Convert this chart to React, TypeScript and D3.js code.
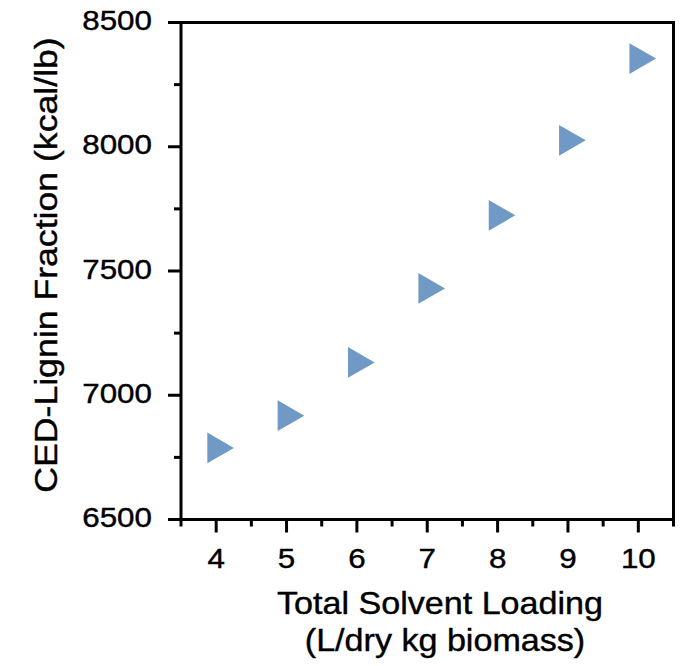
import React from "react";
import * as d3 from "d3";

const loadings = [4, 5, 6, 7, 8, 9, 10];
const cedLignin = [6788, 6918, 7132, 7430, 7724, 8026, 8355];
const yMajorTicks = [6500, 7000, 7500, 8000, 8500];
const yMinorTicks = [6750, 7250, 7750, 8250];
const xMajorTicks = [4, 5, 6, 7, 8, 9, 10];
const xMinorTicks = [3.5, 4.5, 5.5, 6.5, 7.5, 8.5, 9.5, 10.5];
const xTitle1 = "Total Solvent Loading";
const xTitle2 = "(L/dry kg biomass)";
const yTitle = "CED-Lignin Fraction (kcal/lb)";

const W = 682;
const H = 666;
const FONT = "'Liberation Sans', Arial, sans-serif";
const COLOR = "#7199c5";

export default function App() {
  const x = d3.scaleLinear().domain([3.5, 10.5]).range([181, 673.5]);
  const y = d3.scaleLinear().domain([6500, 8500]).range([519.5, 22.5]);
  const tri = d3.symbol().type(d3.symbolTriangle).size(410)();
  const [x0, x1] = x.range();
  const [yb, yt] = y.range();
  const sw = 3;
  const textStroke = { stroke: "#000", strokeWidth: 0.4 };

  return (
    <svg
      width={W}
      height={H}
      style={{ position: "absolute", left: 0, top: 0 }}
      fontFamily={FONT}
    >
      <rect x={0} y={0} width={W} height={H} fill="#fff" />
      {/* markers */}
      {loadings.map((d, i) => (
        <path
          key={i}
          d={tri as string}
          transform={`translate(${x(d)},${y(cedLignin[i])}) rotate(90)`}
          fill={COLOR}
        />
      ))}
      {/* frame */}
      <rect
        x={x0}
        y={yt}
        width={x1 - x0}
        height={yb - yt}
        fill="none"
        stroke="#000"
        strokeWidth={sw}
      />
      {/* y ticks */}
      {yMajorTicks.map((t) => (
        <g key={"ym" + t}>
          <line x1={x0 - 13} x2={x0} y1={y(t)} y2={y(t)} stroke="#000" strokeWidth={sw} />
          <text
            transform={`translate(152,${y(t) + 7.5}) scale(1.12,1)`}
            textAnchor="end"
            fontSize={28}
            fill="#000"
            {...textStroke}
          >
            {t}
          </text>
        </g>
      ))}
      {yMinorTicks.map((t) => (
        <line key={"yn" + t} x1={x0 - 7} x2={x0} y1={y(t)} y2={y(t)} stroke="#000" strokeWidth={sw} />
      ))}
      {/* x ticks */}
      {xMajorTicks.map((t) => (
        <g key={"xm" + t}>
          <line x1={x(t)} x2={x(t)} y1={yb} y2={yb + 13} stroke="#000" strokeWidth={sw} />
          <text
            transform={`translate(${x(t)},568) scale(1.12,1)`}
            textAnchor="middle"
            fontSize={28}
            fill="#000"
            {...textStroke}
          >
            {t}
          </text>
        </g>
      ))}
      {xMinorTicks.map((t) => (
        <line key={"xn" + t} x1={x(t)} x2={x(t)} y1={yb} y2={yb + 7} stroke="#000" strokeWidth={sw} />
      ))}
      {/* x title */}
      <text
        transform={`translate(440,614) scale(1.1,1)`}
        textAnchor="middle"
        fontSize={31}
        fill="#000"
        {...textStroke}
      >
        {xTitle1}
      </text>
      <text
        transform={`translate(445,651) scale(1.1,1)`}
        textAnchor="middle"
        fontSize={31}
        fill="#000"
        {...textStroke}
      >
        {xTitle2}
      </text>
      {/* y title */}
      <text
        transform={`translate(57,265) rotate(-90) scale(1.15,1)`}
        textAnchor="middle"
        fontSize={31}
        fill="#000"
        {...textStroke}
      >
        {yTitle}
      </text>
    </svg>
  );
}
